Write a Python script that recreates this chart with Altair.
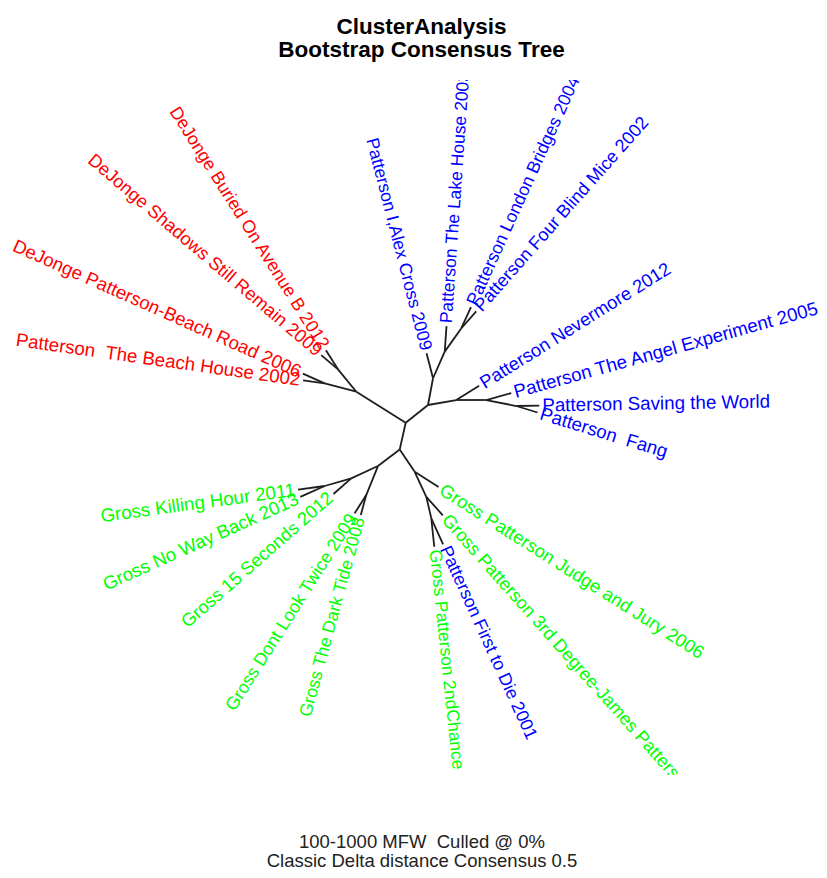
import math
import altair as alt
import pandas as pd

FONT = "Liberation Sans"

# Unrooted consensus tree: each branch = (parent node, child node, branch length, branch direction in degrees)
parents = ["A", "R1", "R3", "R3", "R1", "R2", "R2",
           "A", "C", "B1", "B1", "B2", "B2", "B3", "B3",
           "C", "B4", "B4", "B5", "B5", "B6", "B6",
           "A", "B", "G1", "G2", "G4", "G4", "G2", "G1", "G3", "G3",
           "B", "G5", "G5", "G6", "G6", "G7", "G7"]
children = ["R1", "R3", "Patterson  The Beach House 2002", "DeJonge Patterson-Beach Road 2006",
            "R2", "DeJonge Buried On Avenue B 2012", "DeJonge Shadows Still Remain 2009",
            "C", "B1", "Patterson I,Alex Cross 2009", "B2", "Patterson The Lake House 2003",
            "B3", "Patterson London Bridges 2004", "Patterson Four Blind Mice 2002",
            "B4", "Patterson Nevermore 2012", "B5", "Patterson The Angel Experiment 2005",
            "B6", "Patterson Saving the World", "Patterson  Fang",
            "B", "G1", "G2", "G4", "Gross Killing Hour 2011", "Gross No Way Back 2013",
            "Gross 15 Seconds 2012", "G3", "Gross Dont Look Twice 2009", "Gross The Dark Tide 2008",
            "G5", "Gross Patterson Judge and Jury 2006", "G6",
            "Gross Patterson 3rd Degree-James Patterson 2004", "G7",
            "Gross Patterson 2ndChance 2002", "Patterson First to Die 2001"]
lengths = [0.583, 0.327, 0.218, 0.239, 0.289, 0.226, 0.220,
           0.285, 0.272, 0.259, 0.291, 0.255, 0.287, 0.232, 0.224,
           0.287, 0.269, 0.300, 0.259, 0.306, 0.230, 0.222,
           0.275, 0.273, 0.294, 0.277, 0.268, 0.266, 0.237, 0.313, 0.217, 0.206,
           0.268, 0.283, 0.276, 0.248, 0.222, 0.285, 0.285]
angles = [147.9, 165.1, 172.0, 156.0, 129.3, 122.3, 139.6,
          38.4, 79.4, 104.5, 66.3, 86.0, 54.6, 65.5, 48.5,
          10.0, 32.0, 0.0, 15.5, -11.3, 1.0, -17.0,
          257.4, 217.2, 204.7, 196.1, 187.7, 204.2, 221.3, 248.0, 237.6, 254.7,
          304.0, 327.6, 294.9, 311.7, 283.0, 276.0, 294.5]

# cluster colour of each tip label
tip_names = ["Patterson  The Beach House 2002", "DeJonge Patterson-Beach Road 2006",
             "DeJonge Buried On Avenue B 2012", "DeJonge Shadows Still Remain 2009",
             "Patterson I,Alex Cross 2009", "Patterson The Lake House 2003",
             "Patterson London Bridges 2004", "Patterson Four Blind Mice 2002",
             "Patterson Nevermore 2012", "Patterson The Angel Experiment 2005",
             "Patterson Saving the World", "Patterson  Fang",
             "Gross Killing Hour 2011", "Gross No Way Back 2013", "Gross 15 Seconds 2012",
             "Gross Dont Look Twice 2009", "Gross The Dark Tide 2008",
             "Gross Patterson Judge and Jury 2006", "Gross Patterson 3rd Degree-James Patterson 2004",
             "Gross Patterson 2ndChance 2002", "Patterson First to Die 2001"]
tip_colors = ["#FF0000", "#FF0000", "#FF0000", "#FF0000",
              "#0000FF", "#0000FF", "#0000FF", "#0000FF",
              "#0000FF", "#0000FF", "#0000FF", "#0000FF",
              "#00FF00", "#00FF00", "#00FF00", "#00FF00", "#00FF00",
              "#00FF00", "#00FF00", "#00FF00", "#0000FF"]

subtitle_lines = ["100-1000 MFW  Culled @ 0%", "Classic Delta distance Consensus 0.5"]
title_lines = ["ClusterAnalysis", "Bootstrap Consensus Tree"]


def keep_spaces(s):
    # keep the double spaces of the original labels visible in SVG
    return s.replace("  ", " \u00a0")


# the source picture is stretched horizontally relative to vertically
H_STRETCH = 1.071
BASE_FS = 17.5

# ---- layout of the unrooted tree from branch lengths and directions ----
pos = {"A": (0.0, 0.0)}
edge_rows = []
tip_rows = []
colour_of = dict(zip(tip_names, tip_colors))
for p, c, l, a in zip(parents, children, lengths, angles):
    x0, y0 = pos[p]
    r = math.radians(a)
    x1, y1 = x0 + l * math.cos(r), y0 + l * math.sin(r)
    pos[c] = (x1, y1)
    edge_rows.append({"x": x0, "y": y0, "x2": x1, "y2": y1})
    if c in colour_of:
        right = math.cos(r) >= 0
        ang = (-a) % 360 if right else (180 - a) % 360
        fs = BASE_FS * math.sqrt((H_STRETCH * math.cos(r)) ** 2 + math.sin(r) ** 2)
        tip_rows.append({"x": x1, "y": y1, "label": keep_spaces(c), "col": colour_of[c],
                         "ang": ang, "fs": fs, "side": "R" if right else "L"})

edges = pd.DataFrame(edge_rows)
tips = pd.DataFrame(tip_rows)

xscale = alt.Scale(domain=[-3.977, 4.133], nice=False, zero=False)
yscale = alt.Scale(domain=[-3.523, 3.427], nice=False, zero=False)
xaxis = alt.Axis(title=[keep_spaces(t) for t in subtitle_lines], domain=False, ticks=False,
                 labels=False, grid=False,
                 titleFontSize=18.5, titleFont=FONT, titleFontWeight="normal", titleColor="#222222",
                 titlePadding=57, titleLineHeight=19, titleX=413.5, titleAlign="center")


def xenc(field="x"):
    return alt.X(f"{field}:Q", scale=xscale, axis=xaxis)


def yenc(field="y"):
    return alt.Y(f"{field}:Q", scale=yscale, axis=None)


branches = alt.Chart(edges).mark_rule(color="#1e1e1e", strokeWidth=1.8).encode(
    x=xenc(), y=yenc(), x2="x2:Q", y2="y2:Q"
)

base_text = alt.Chart(tips)
common = dict(
    x=xenc(), y=yenc(), text="label:N",
    angle=alt.Angle("ang:Q", scale=None),
    size=alt.Size("fs:Q", scale=None),
    color=alt.Color("col:N", scale=None),
)
right_labels = base_text.transform_filter(alt.datum.side == "R").mark_text(
    align="left", baseline="middle", dx=3, font=FONT, clip=True
).encode(**common)
left_labels = base_text.transform_filter(alt.datum.side == "L").mark_text(
    align="right", baseline="middle", dx=-3, font=FONT, clip=True
).encode(**common)

chart = alt.layer(branches, right_labels, left_labels).properties(
    width=811, height=695,
    padding={"left": 0, "top": 72, "right": 0, "bottom": 95},
    autosize="none",
    title=alt.TitleParams(text=title_lines, fontSize=22.5, font=FONT, fontWeight="bold",
                          anchor="middle", frame="group", offset=18.5, lineHeight=23.5,
                          dx=8, color="black"),
).configure_view(stroke=None)

chart.save("out.html", embed_options={"renderer": "svg", "actions": False})
